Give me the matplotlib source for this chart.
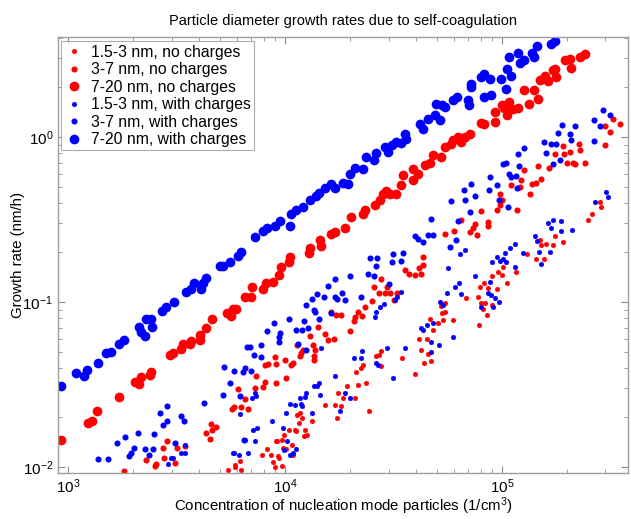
import matplotlib
matplotlib.use('Agg')
import matplotlib.pyplot as plt

plt.rcParams['font.family'] = ['Liberation Sans', 'DejaVu Sans']
plt.rcParams['mathtext.fontset'] = 'custom'
plt.rcParams['mathtext.rm'] = 'Liberation Sans'
plt.rcParams['mathtext.it'] = 'Liberation Sans'

# ---- data: concentration (1/cm3), growth rate (nm/h) ----
# 1.5-3 nm, no charges
n_small_red = [5450, 5900, 6210, 6300, 5890, 7850, 8270, 8800, 9010, 9200, 9290, 9800, 10100,
               10440, 10800, 10900, 11100, 11350, 11700, 11950, 12400, 12600, 13300, 8620, 9100,
               9730, 9400, 9700, 9900, 11250, 11600, 12200, 15300, 17000, 17400, 17600, 18100,
               18500, 19300, 21000, 21300, 21800, 22400, 23000, 23600, 24400, 26300, 27000, 27700,
               27700, 34600, 39800, 41500, 42400, 43700, 45000, 45600, 46700, 46900, 48200, 52400,
               53000, 53500, 54700, 54700, 50800, 59600, 68500, 77700, 78500, 79300, 80300, 82000,
               82800, 83700, 85500, 86000, 90200, 90200, 95000, 96200, 100000, 101000, 106000,
               116000, 130000, 143000, 157000, 150000, 151000, 160000, 171000, 176000, 192000,
               250000, 260000, 284000, 287000]
gr_small_red = [0.0096, 0.0103, 0.0109, 0.0096, 0.0100, 0.0119, 0.0129, 0.0108, 0.0100, 0.0143,
                0.0117, 0.0131, 0.0128, 0.0168, 0.0136, 0.0119, 0.0168, 0.0207, 0.0213, 0.0198,
                0.0168, 0.0156, 0.0189, 0.0118, 0.0144, 0.0101, 0.0114, 0.0146, 0.0156, 0.0165,
                0.0185, 0.0154, 0.0238, 0.0238, 0.0198, 0.0280, 0.0233, 0.0261, 0.0310, 0.0263,
                0.0375, 0.0314, 0.0399, 0.0415, 0.0322, 0.0219, 0.0470, 0.0477, 0.0407, 0.0504,
                0.0455, 0.0368, 0.0595, 0.0512, 0.0428, 0.0601, 0.0484, 0.0790, 0.0437, 0.0677,
                0.095, 0.086, 0.0778, 0.099, 0.087, 0.075, 0.0778, 0.106, 0.107, 0.0726, 0.123,
                0.099, 0.091, 0.130, 0.099, 0.0835, 0.121, 0.144, 0.096, 0.120, 0.153, 0.146,
                0.163, 0.130, 0.153, 0.196, 0.183, 0.183, 0.238, 0.222, 0.224, 0.222, 0.251,
                0.232, 0.314, 0.341, 0.403, 0.377]

# 3-7 nm, no charges
n_mid_red = [1810, 2290, 2520, 2540, 2740, 2770, 2860, 3115, 3180, 3460, 4320, 4520, 4560, 4610,
             4810, 5700, 5830, 6080, 6280, 6550, 6760, 7280, 7360, 7930, 8100, 8100, 8370, 9010,
             9100, 9100, 10000, 10100, 10650, 10900, 11350, 11700, 11850, 12100, 13000, 13500,
             13600, 13600, 13750, 14200, 15300, 15800, 16300, 16800, 17200, 18100, 19900, 20800,
             21000, 21700, 22600, 23400, 25200, 25700, 27000, 27700, 28900, 29500, 30500, 31800,
             32800, 35800, 37300, 39800, 41500, 42400, 43300, 43300, 54500, 60300, 64700, 71000,
             73200, 75500, 76400, 80000, 86000, 86000, 94800, 98000, 98000, 100000, 110000,
             117000, 121000, 122000, 127000, 134000, 138000, 143000, 146000, 151000, 165000,
             175000, 192000, 194000, 200000, 205000, 213000, 216000, 227000, 230000, 241000,
             297000, 300000, 316000, 325000, 350000]
gr_mid_red = [0.0095, 0.0110, 0.0101, 0.0104, 0.0130, 0.0113, 0.0143, 0.0106, 0.0130, 0.0135,
              0.0161, 0.0148, 0.0183, 0.0168, 0.0174, 0.0225, 0.0231, 0.0297, 0.0231, 0.0259,
              0.0225, 0.0301, 0.0354, 0.0306, 0.0328, 0.0415, 0.0421, 0.0463, 0.0322, 0.0421,
              0.0445, 0.0346, 0.0415, 0.0427, 0.0549, 0.0470, 0.0491, 0.0512, 0.0619, 0.0549,
              0.0470, 0.0445, 0.0512, 0.0706, 0.0643, 0.0589, 0.0870, 0.0601, 0.0835, 0.0835,
              0.0667, 0.0766, 0.0812, 0.0870, 0.0822, 0.0930, 0.101, 0.123, 0.113, 0.138, 0.113,
              0.123, 0.113, 0.103, 0.113, 0.156, 0.148, 0.146, 0.160, 0.148, 0.187, 0.168, 0.258,
              0.270, 0.314, 0.265, 0.280, 0.296, 0.255, 0.356, 0.290, 0.305, 0.360, 0.387, 0.450,
              0.415, 0.510, 0.360, 0.500, 0.550, 0.630, 0.450, 0.520, 0.530, 0.670, 0.560, 0.650,
              0.790, 0.880, 0.790, 0.700, 0.810, 0.700, 0.690, 0.910, 0.830, 0.700, 0.890, 1.17,
              1.07, 1.29, 1.20]

# 7-20 nm, no charges
n_big_red = [930, 1240, 1290, 1360, 1720, 2040, 2130, 2170, 2390, 2410, 2950, 3050, 3310, 3390,
             3650, 3690, 4060, 4060, 4320, 4610, 5400, 5650, 5760, 5950, 6540, 6970, 7030, 7900,
             8170, 8800, 9400, 9600, 10400, 10500, 12900, 13000, 14500, 14600, 16300, 17000,
             18900, 20100, 22900, 23400, 25900, 27400, 28300, 29300, 30400, 32400, 34200, 34800,
             38800, 38800, 40900, 44000, 46500, 48000, 52400, 54500, 58000, 59500, 62800, 64700,
             67800, 71000, 80000, 83000, 92600, 92600, 100000, 102000, 106000, 108000, 112000,
             118000, 127000, 133000, 141000, 146000, 150000, 158000, 163000, 171000, 175000,
             177000, 196000, 205000, 207000, 230000, 241000]
gr_big_red = [0.0146, 0.0185, 0.019, 0.022, 0.0265, 0.033, 0.032, 0.035, 0.036, 0.0375, 0.048,
              0.049, 0.052, 0.056, 0.056, 0.058, 0.063, 0.059, 0.070, 0.079, 0.086, 0.082, 0.091,
              0.091, 0.107, 0.107, 0.123, 0.120, 0.130, 0.132, 0.145, 0.163, 0.175, 0.187, 0.198,
              0.212, 0.238, 0.220, 0.260, 0.265, 0.280, 0.330, 0.340, 0.360, 0.390, 0.415, 0.450,
              0.470, 0.450, 0.450, 0.510, 0.590, 0.640, 0.550, 0.600, 0.680, 0.700, 0.780, 0.760,
              0.870, 0.910, 0.960, 1.00, 0.930, 1.00, 1.04, 1.22, 1.20, 1.23, 1.42, 1.56, 1.50,
              1.36, 1.63, 1.48, 1.50, 1.93, 1.58, 1.93, 1.70, 2.22, 2.34, 2.18, 2.55, 2.60, 2.30,
              2.93, 2.97, 2.64, 3.05, 3.20]

# 1.5-3 nm, with charges
n_small_blue = [2890, 2990, 3320, 3460, 3460, 3050, 5820, 6150, 6210, 5760, 6550, 6760, 7050,
                7140, 7280, 7350, 7430, 8720, 9800, 10100, 10200, 10550, 10900, 11100, 11900,
                12400, 13300, 14000, 7280, 9900, 10550, 11250, 11700, 11950, 12500, 13600, 14300,
                14500, 14650, 17000, 17900, 18900, 19900, 20800, 22400, 22600, 26300, 26700,
                29500, 31400, 35800, 26000, 26300, 27400, 28600, 34300, 32200, 32900, 42400,
                43200, 45000, 46900, 47300, 48300, 51900, 56500, 55900, 59600, 51400, 60800,
                63500, 64200, 64800, 67700, 53600, 75200, 80300, 86000, 88200, 89200, 90200,
                91100, 93000, 95000, 97000, 98100, 101300, 103500, 104600, 115000, 125000,
                148000, 151000, 167000, 109000, 115000, 142000, 145000, 163000, 168000, 172000,
                188000, 188000, 211000, 269000, 303000, 309000]
gr_small_blue = [0.0105, 0.0114, 0.0122, 0.0136, 0.0121, 0.0113, 0.0121, 0.0119, 0.0210,
                 0.0122, 0.0146, 0.0122, 0.0263, 0.0168, 0.0143, 0.0269, 0.0173, 0.0189, 0.0173,
                 0.0213, 0.0143, 0.0241, 0.0122, 0.0238, 0.0241, 0.0267, 0.0213, 0.0310, 0.0280,
                 0.0127, 0.0119, 0.0128, 0.0263, 0.0233, 0.0280, 0.0309, 0.0325, 0.0273, 0.0530,
                 0.0355, 0.0220, 0.0280, 0.0261, 0.0455, 0.0455, 0.0502, 0.0428, 0.0415, 0.0530,
                 0.0345, 0.0524, 0.081, 0.087, 0.093, 0.097, 0.115, 0.103, 0.107, 0.070, 0.068,
                 0.0726, 0.050, 0.057, 0.075, 0.100, 0.160, 0.113, 0.0617, 0.0549, 0.123, 0.130,
                 0.196, 0.112, 0.207, 0.096, 0.144, 0.093, 0.113, 0.133, 0.110, 0.175, 0.093,
                 0.106, 0.187, 0.100, 0.177, 0.183, 0.198, 0.175, 0.163, 0.198, 0.202, 0.170,
                 0.202, 0.212, 0.224, 0.251, 0.234, 0.300, 0.280, 0.314, 0.310, 0.270, 0.273,
                 0.403, 0.464, 0.433]

# 3-7 nm, with charges
n_mid_blue = [1375, 1530, 1680, 1830, 1910, 1950, 2020, 2100, 2265, 2360, 2460, 2490, 2656,
              2740, 2860, 2860, 3115, 3320, 3430, 4240, 5190, 5240, 5590, 5830, 6210, 6410, 6550,
              6690, 6480, 6910, 6980, 7200, 7770, 7770, 8270, 8900, 9400, 9400, 9500, 10450,
              11250, 11500, 11950, 12200, 12500, 12800, 12500, 13300, 13600, 13750, 14050, 14350,
              15100, 15800, 16300, 17000, 17000, 17400, 18300, 18900, 19900, 22400, 24100, 24700,
              25700, 26300, 26600, 30200, 31100, 31500, 34300, 34900, 39800, 40900, 43200, 45500,
              47000, 48300, 57400, 58000, 62800, 61600, 66500, 67800, 71000, 71800, 75500, 87200,
              88000, 94800, 97000, 101000, 104000, 107000, 108000, 110000, 116000, 117000,
              118000, 120000, 127000, 156000, 160000, 168000, 171000, 177000, 181000, 186000,
              190000, 205000, 207000, 216000, 267000, 265000, 283000, 292000, 316000]
gr_mid_blue = [0.0112, 0.0112, 0.0139, 0.0152, 0.0117, 0.0121, 0.0130, 0.0161, 0.0128, 0.0119,
               0.0128, 0.0159, 0.0213, 0.0180, 0.0234, 0.0190, 0.0139, 0.0205, 0.0190, 0.0243,
               0.0273, 0.0403, 0.0325, 0.0380, 0.0268, 0.0376, 0.0398, 0.0534, 0.0146, 0.0534,
               0.0380, 0.0477, 0.0463, 0.0549, 0.0667, 0.0751, 0.0613, 0.0573, 0.0651, 0.0791,
               0.0677, 0.0557, 0.0677, 0.0766, 0.0960, 0.0697, 0.0512, 0.104, 0.0895, 0.087,
               0.112, 0.0791, 0.107, 0.125, 0.086, 0.138, 0.107, 0.104, 0.113, 0.103, 0.144,
               0.107, 0.148, 0.185, 0.144, 0.165, 0.185, 0.129, 0.175, 0.195, 0.177, 0.198,
               0.251, 0.241, 0.231, 0.255, 0.318, 0.255, 0.215, 0.41, 0.31, 0.238, 0.48, 0.415,
               0.35, 0.52, 0.44, 0.48, 0.57, 0.51, 0.415, 0.69, 0.70, 0.375, 0.60, 0.57, 0.58,
               0.49, 0.79, 0.67, 0.86, 0.93, 0.80, 0.91, 0.69, 0.91, 1.06, 0.73, 1.18, 1.04,
               0.96, 1.17, 0.95, 1.27, 1.17, 1.46, 1.36]

# 7-20 nm, with charges
n_big_blue = [930, 1090, 1185, 1220, 1375, 1500, 1580, 1720, 1810, 2130, 2170, 2260, 2290, 2400,
              2430, 2700, 2820, 3080, 3500, 3700, 3800, 4100, 4200, 4300, 5000, 5200, 5600, 6100,
              6300, 7270, 7900, 8260, 9000, 9500, 10500, 10600, 11200, 12100, 13000, 13900,
              14300, 15300, 16300, 17000, 18500, 19500, 20000, 21000, 22900, 23600, 25700, 26300,
              28900, 29800, 31000, 32400, 34200, 35700, 36100, 41900, 43200, 45500, 49000, 49600,
              51800, 52900, 54500, 59500, 62000, 69500, 70300, 71800, 71800, 80000, 83000, 88000,
              83000, 89000, 99000, 104000, 106000, 110000, 108000, 118000, 121000, 127000,
              138000, 141000, 145000, 168000, 176000]
gr_big_blue = [0.031, 0.037, 0.0355, 0.039, 0.043, 0.049, 0.050, 0.056, 0.059, 0.071, 0.066,
               0.062, 0.079, 0.079, 0.071, 0.088, 0.093, 0.100, 0.115, 0.120, 0.130, 0.120, 0.130,
               0.140, 0.165, 0.165, 0.175, 0.190, 0.200, 0.248, 0.270, 0.280, 0.290, 0.310, 0.290,
               0.340, 0.360, 0.375, 0.415, 0.440, 0.460, 0.490, 0.520, 0.490, 0.530, 0.520, 0.600,
               0.650, 0.640, 0.760, 0.730, 0.800, 0.870, 0.810, 0.890, 0.930, 0.920, 1.04, 0.97,
               1.20, 1.12, 1.29, 1.36, 1.58, 1.27, 1.56, 1.52, 1.68, 1.75, 1.68, 1.56, 2.10, 2.00,
               2.30, 2.40, 2.25, 1.75, 1.80, 2.25, 1.95, 2.60, 2.35, 3.05, 3.25, 2.80, 2.93, 3.25,
               3.05, 3.55, 3.65, 3.80]

fig = plt.figure(figsize=(6.31, 5.19), dpi=100)
ax = fig.add_axes([0.092, 0.0886, 0.904, 0.840])

red = (1, 0, 0)
blue = (0, 0, 1)
star = (8, 2, 0)

ax.plot(n_small_red, gr_small_red, ls='none', marker=star, ms=3.6, mew=0.8, color=red,
        label='1.5-3 nm, no charges')
ax.plot(n_mid_red, gr_mid_red, ls='none', marker='o', ms=4.4, mew=0, color=red,
        label='3-7 nm, no charges')
ax.plot(n_big_red, gr_big_red, ls='none', marker='o', ms=7.0, mew=0, color=red,
        label='7-20 nm, no charges')
ax.plot(n_small_blue, gr_small_blue, ls='none', marker=star, ms=3.6, mew=0.8, color=blue,
        label='1.5-3 nm, with charges')
ax.plot(n_mid_blue, gr_mid_blue, ls='none', marker='o', ms=4.4, mew=0, color=blue,
        label='3-7 nm, with charges')
ax.plot(n_big_blue, gr_big_blue, ls='none', marker='o', ms=7.0, mew=0, color=blue,
        label='7-20 nm, with charges')

ax.set_xscale('log')
ax.set_yscale('log')
ax.set_xlim(899, 3.83e5)
ax.set_ylim(0.0092, 4.04)

for s in ax.spines.values():
    s.set_color('0.62')
    s.set_linewidth(1.0)
ax.tick_params(which='both', direction='in', top=True, right=True, color='0.55',
               labelsize=11, labelcolor='black')
ax.tick_params(which='major', length=5, width=0.8)
ax.tick_params(which='minor', length=3, width=0.6)
ax.tick_params(axis='x', pad=3)

ax.set_title('Particle diameter growth rates due to self-coagulation', fontsize=10.5, pad=9)
ax.set_xlabel('Concentration of nucleation mode particles (1/cm$^3$)', fontsize=10.8, labelpad=0)
ax.set_ylabel('Growth rate (nm/h)', fontsize=10.8, labelpad=-2)

leg = ax.legend(loc='upper left', bbox_to_anchor=(0.006, 0.99), fontsize=11.3,
                frameon=True, fancybox=False, borderpad=0.2, labelspacing=0.16,
                handlelength=1.2, handletextpad=0.5, borderaxespad=0.0, markerscale=1.0)
leg.get_frame().set_edgecolor('0.6')
leg.get_frame().set_linewidth(0.8)

fig.savefig('out.png', dpi=100)
